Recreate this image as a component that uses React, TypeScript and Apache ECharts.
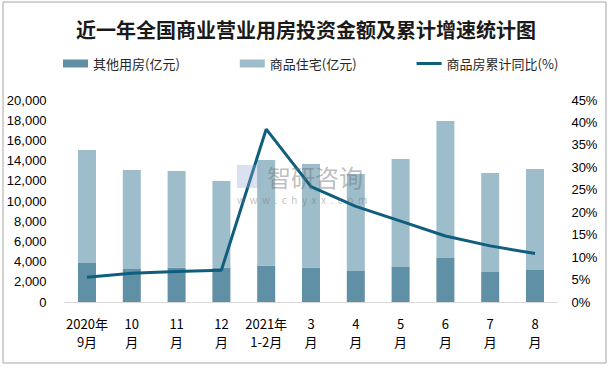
import React, { useEffect, useRef } from "react";
import * as echarts from "echarts";

const categories = ["2020年\n9月", "10\n月", "11\n月", "12\n月", "2021年\n1-2月", "3\n月", "4\n月", "5\n月", "6\n月", "7\n月", "8\n月"];
const otherHousing = [3860, 3270, 3400, 3400, 3600, 3400, 3070, 3465, 4360, 2970, 3170];
const residential = [11190, 9800, 9570, 8580, 10460, 10260, 9600, 10695, 13560, 9800, 10000];
const growthRate = [5.5, 6.4, 6.8, 7.1, 38.5, 25.7, 21.3, 18.0, 14.7, 12.5, 10.8];
const leftTicks = { min: 0, max: 20000, interval: 2000 };
const rightTicks = { min: 0, max: 45, interval: 5 };

const FONT = "'Noto Sans CJK SC', 'Liberation Sans', sans-serif";

export default function App() {
  const ref = useRef<HTMLDivElement>(null);
  useEffect(() => {
    if (!ref.current) return;
    const chart = echarts.init(ref.current, null, { renderer: "svg" });
    chart.setOption({
      animation: false,
      backgroundColor: "#ffffff",
      title: {
        text: "近一年全国商业营业用房投资金额及累计增速统计图",
        left: "center",
        top: 14,
        textStyle: { fontSize: 20, fontWeight: "bold", color: "#1a1a1a", fontFamily: FONT },
      },
      legend: {
        left: 58,
        top: 52,
        itemGap: 60,
        itemWidth: 25,
        itemHeight: 8,
        textStyle: { fontSize: 13, color: "#262626", fontFamily: FONT },
        data: [
          { name: "其他用房(亿元)", icon: "rect" },
          { name: "商品住宅(亿元)", icon: "rect" },
          { name: "商品房累计同比(%)", icon: "path://M0,0H25V3H0Z", itemStyle: { color: "#0f5e7e" } },
        ],
      },
      graphic: [
        {
          type: "rect",
          shape: { x: 3, y: 2, width: 603, height: 361 },
          style: { fill: "none", stroke: "#a6a6a6", lineWidth: 1 },
          z: 100,
        },
        {
          type: "rect",
          shape: { x: 237, y: 165, width: 23, height: 23 },
          style: { fill: "rgba(150,170,210,0.35)" },
          z: 10,
        },
        {
          type: "text",
          x: 267,
          y: 164,
          style: { text: "智研咨询", fontSize: 24, fill: "rgba(110,110,110,0.45)", fontFamily: FONT },
          z: 10,
        },
        {
          type: "text",
          x: 237,
          y: 194,
          style: { text: "w  w  w  .  c  h  y  x  x  .  c  o  m", fontSize: 10, fill: "rgba(110,110,110,0.45)", fontFamily: FONT },
          z: 10,
        },
      ],
      grid: { left: 64.6, right: 54.6, top: 100, bottom: 67, containLabel: false },
      xAxis: {
        type: "category",
        data: categories,
        axisLine: { show: true, lineStyle: { color: "#d9d9d9", width: 1 } },
        axisTick: { show: false },
        axisLabel: { fontSize: 13, color: "#000", lineHeight: 18, margin: 12, fontFamily: FONT, interval: 0 },
      },
      yAxis: [
        {
          type: "value",
          ...leftTicks,
          axisLine: { show: false },
          axisTick: { show: false },
          splitLine: { show: false },
          axisLabel: {
            fontSize: 13,
            color: "#000",
            margin: 18,
            fontFamily: "'Liberation Sans', sans-serif",
            formatter: (v: number) => v.toLocaleString("en-US"),
          },
        },
        {
          type: "value",
          ...rightTicks,
          axisLine: { show: false },
          axisTick: { show: false },
          splitLine: { show: false },
          axisLabel: {
            fontSize: 13,
            color: "#000",
            margin: 14,
            fontFamily: "'Liberation Sans', sans-serif",
            formatter: "{value}%",
          },
        },
      ],
      series: [
        {
          name: "其他用房(亿元)",
          type: "bar",
          stack: "total",
          data: otherHousing,
          barWidth: 18,
          itemStyle: { color: "#5f90a6" },
          z: 3,
        },
        {
          name: "商品住宅(亿元)",
          type: "bar",
          stack: "total",
          data: residential,
          barWidth: 18,
          itemStyle: { color: "#9ebdcb" },
          z: 3,
        },
        {
          name: "商品房累计同比(%)",
          type: "line",
          yAxisIndex: 1,
          data: growthRate,
          symbol: "none",
          smooth: false,
          lineStyle: { color: "#0f5e7e", width: 3 },
          itemStyle: { color: "#0f5e7e" },
          z: 5,
        },
      ],
    });
    return () => chart.dispose();
  }, []);
  return <div ref={ref} style={{ position: "fixed", left: 0, top: 0, width: 612, height: 369 }} />;
}
